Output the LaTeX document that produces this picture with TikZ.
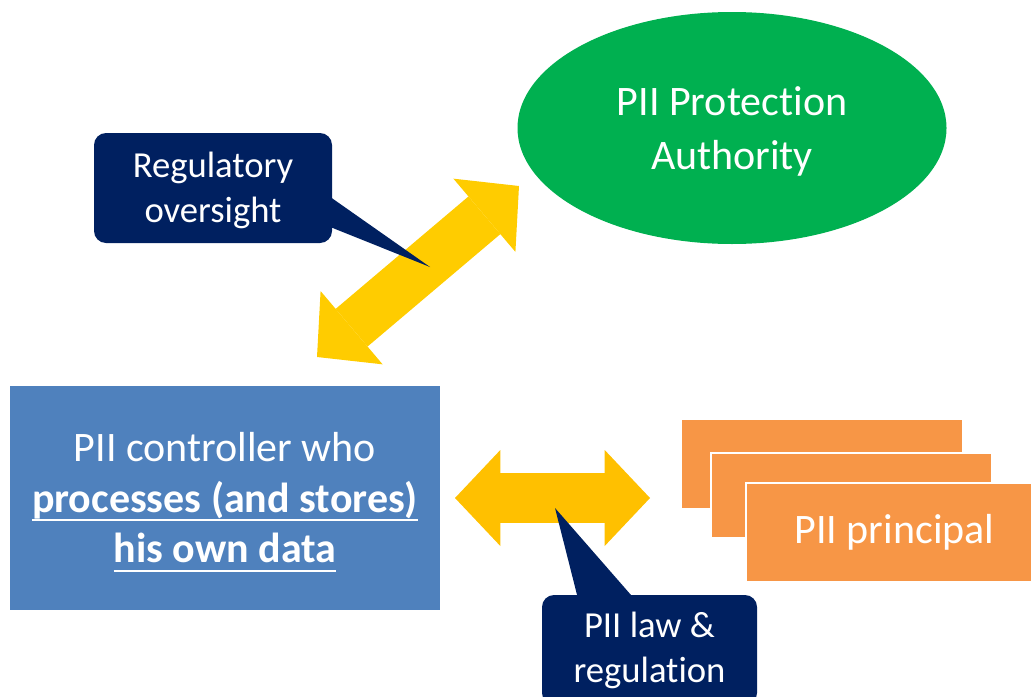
\documentclass[tikz,border=0pt]{standalone}
\usepackage{fontspec}
\setmainfont{Carlito}[Ligatures={NoCommon}]
\usepackage{tikz}
\usetikzlibrary{arrows.meta}
\usetikzlibrary{shapes.geometric}
\usetikzlibrary{positioning}
\definecolor{authgreen}{HTML}{00B050}
\definecolor{ctrlblue}{HTML}{4F81BD}
\definecolor{prinorange}{HTML}{F79646}
\definecolor{notenavy}{HTML}{002060}
\definecolor{lawgold}{HTML}{FFC000}
\definecolor{regyellow}{HTML}{FFCC00}
% underline with a fixed rule below the baseline
\newcommand{\ulbar}[1]{\leavevmode\setbox0\hbox{#1}\rlap{\rule[-7pt]{\wd0}{1.8pt}}\box0}
% taller first line, pushes the text block down a little
\newcommand{\topstrut}[1]{\rule{0pt}{#1}}
\tikzstyle{authority} = [ellipse, fill=authgreen, minimum width=321.75pt, minimum height=174pt, text=white, align=center, font=\fontsize{31.5pt}{40.5pt}\selectfont]
\tikzstyle{controller} = [rectangle, fill=ctrlblue, minimum width=322.5pt, minimum height=168pt, text=white, align=center, font=\fontsize{31.5pt}{38pt}\selectfont]
\tikzstyle{principal} = [rectangle, fill=prinorange, text=white, font=\fontsize{31.5pt}{38pt}\selectfont]
\tikzstyle{note} = [rectangle, rounded corners=9pt, fill=notenavy, minimum height=82.5pt, text=white, align=center, font=\fontsize{27.5pt}{33.75pt}\selectfont]
\tikzstyle{bigarrow} = [line width=37pt, {Triangle[length=34pt,width=72pt,line width=0pt]}-{Triangle[length=34pt,width=72pt,line width=0pt]}]

\begin{document}
\begin{tikzpicture}[x=0.75pt, y=-0.75pt]
    \path [use as bounding box, clip] (0,0) rectangle (1031,696);
    % boxes
    \node (auth) [authority] at (732,128) {\topstrut{26.5pt}PII Protection\\Authority};
    \node (ctrl) [controller] at (225,498) {\topstrut{28pt}PII controller who\\\ulbar{\textbf{processes (and stores)}}\\\ulbar{\textbf{his own data}}};
    \node (back) [principal, minimum width=210pt, minimum height=66pt] at (822,464) {};
    \node (mid) [principal, draw=white, line width=1.5pt, minimum width=210.75pt, minimum height=63.75pt] at (851.5,495.5) {};
    \node (front) [principal, draw=white, line width=1.5pt, minimum width=215.25pt, minimum height=74.25pt] at (889.5,532.5) {\hspace*{7.5pt}\raisebox{-6.5pt}{PII principal}};
    % block arrows
    \coordinate (lawL) at (455,498);
    \coordinate (lawR) at (650,498);
    \coordinate (regL) at (317,357);
    \coordinate (regR) at (519,186);
    \draw [bigarrow, color=lawgold] (lawL) -- (lawR);
    \draw [bigarrow, color=regyellow] (regL) -- (regR);
    % callouts
    \coordinate (regtip) at (430,267);
    \coordinate (lawtip) at (555,508);
    \node (reg) [note, minimum width=178.5pt] at (213,188) {\topstrut{22pt}Regulatory\\oversight};
    \node (law) [note, minimum width=161.25pt] at (649.5,650) {PII law \&\\regulation};
    \fill [notenavy] ([shift={(-2,9)}]reg.east) -- (regtip) -- ([shift={(-2,39)}]reg.east) -- cycle;
    \fill [notenavy] ([shift={(-72,2)}]law.north) -- (lawtip) -- ([shift={(-17,2)}]law.north) -- cycle;
\end{tikzpicture}
\end{document}
